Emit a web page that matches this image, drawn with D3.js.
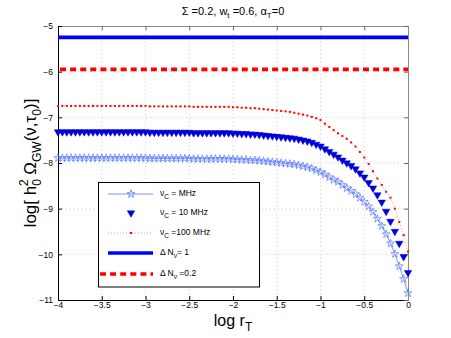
<!DOCTYPE html>
<html><head><meta charset="utf-8">
<script src="https://cdn.jsdelivr.net/npm/d3@7"></script>
<style>body{margin:0;background:#fff}svg{display:block;font-family:"Liberation Sans",Arial,Helvetica,sans-serif}</style>
</head><body><svg id="c" width="451" height="338"></svg>
<script>
// log r_T sample points
const logR = [-4,-3.95,-3.9,-3.85,-3.8,-3.75,-3.7,-3.65,-3.6,-3.55,-3.5,-3.45,-3.4,-3.35,-3.3,-3.25,-3.2,-3.15,-3.1,-3.05,
 -3,-2.95,-2.9,-2.85,-2.8,-2.75,-2.7,-2.65,-2.6,-2.55,-2.5,-2.45,-2.4,-2.35,-2.3,-2.25,-2.2,-2.15,-2.1,-2.05,
 -2,-1.95,-1.9,-1.85,-1.8,-1.75,-1.7,-1.65,-1.6,-1.55,-1.5,-1.45,-1.4,-1.35,-1.3,-1.25,-1.2,-1.15,-1.1,-1.05,
 -1,-0.95,-0.9,-0.85,-0.8,-0.75,-0.7,-0.65,-0.6,-0.55,-0.5,-0.45,-0.4,-0.35,-0.3,-0.25,-0.2,-0.15,-0.1,-0.05,0];
// nu_C = MHz
const seriesMHz = [-7.89,-7.89,-7.89,-7.89,-7.89,-7.89,-7.89,-7.89,-7.89,-7.89,-7.89,-7.89,-7.89,-7.89,-7.89,-7.89,-7.89,-7.89,-7.89,-7.89,
 -7.89,-7.90,-7.90,-7.90,-7.90,-7.90,-7.90,-7.90,-7.90,-7.90,-7.90,-7.91,-7.91,-7.91,-7.91,-7.91,-7.91,-7.91,-7.91,-7.91,
 -7.92,-7.92,-7.93,-7.93,-7.94,-7.94,-7.95,-7.96,-7.97,-7.98,-7.99,-8.00,-8.01,-8.02,-8.03,-8.05,-8.07,-8.09,-8.12,-8.16,
 -8.20,-8.25,-8.31,-8.37,-8.41,-8.48,-8.55,-8.61,-8.68,-8.76,-8.85,-8.95,-9.07,-9.22,-9.38,-9.56,-9.76,-9.99,-10.26,-10.54,-10.85];
// nu_C = 10 MHz
const series10MHz = [-7.32,-7.32,-7.32,-7.32,-7.32,-7.32,-7.32,-7.32,-7.32,-7.32,-7.32,-7.32,-7.32,-7.32,-7.32,-7.32,-7.32,-7.32,-7.32,-7.32,
 -7.32,-7.33,-7.33,-7.33,-7.33,-7.33,-7.33,-7.33,-7.33,-7.33,-7.33,-7.34,-7.34,-7.34,-7.34,-7.34,-7.34,-7.34,-7.34,-7.34,
 -7.35,-7.35,-7.36,-7.36,-7.37,-7.37,-7.38,-7.39,-7.40,-7.41,-7.42,-7.43,-7.44,-7.45,-7.46,-7.48,-7.50,-7.52,-7.55,-7.59,
 -7.63,-7.69,-7.75,-7.81,-7.87,-7.94,-8.00,-8.06,-8.13,-8.22,-8.31,-8.43,-8.55,-8.70,-8.86,-9.06,-9.28,-9.50,-9.76,-10.05,-10.40];
// nu_C = 100 MHz
const series100MHz = [-6.75,-6.75,-6.75,-6.75,-6.75,-6.75,-6.75,-6.75,-6.75,-6.75,-6.75,-6.75,-6.75,-6.75,-6.75,-6.75,-6.75,-6.75,-6.75,-6.75,
 -6.75,-6.76,-6.76,-6.76,-6.76,-6.76,-6.76,-6.76,-6.76,-6.76,-6.76,-6.77,-6.77,-6.77,-6.77,-6.77,-6.77,-6.77,-6.77,-6.77,
 -6.78,-6.78,-6.79,-6.79,-6.80,-6.80,-6.81,-6.82,-6.83,-6.84,-6.85,-6.86,-6.87,-6.88,-6.90,-6.92,-6.94,-6.96,-6.99,-7.02,
 -7.06,-7.14,-7.21,-7.28,-7.35,-7.41,-7.47,-7.55,-7.64,-7.76,-7.88,-8.02,-8.18,-8.34,-8.48,-8.63,-8.76,-9.00,-9.29,-9.58,-9.94];
// Delta N_nu horizontal levels
const deltaN1 = -5.25;
const deltaN02 = -5.95;
const xTicks = [-4,-3.5,-3,-2.5,-2,-1.5,-1,-0.5,0];
const yTicks = [-5,-6,-7,-8,-9,-10,-11];
const legendLabels = ["MHz","10 MHz","100 MHz"];

const svg = d3.select("#c");
const L = 58, R = 408, T = 26, B = 300;
const x = d3.scaleLinear().domain([-4,0]).range([L,R]);
const y = d3.scaleLinear().domain([-11,-5]).range([B,T]);
const fmt = d => String(d).replace("-", "\u2212");

// grid
const g = svg.append("g");
g.selectAll(".gx").data(xTicks.slice(1,-1)).join("line")
  .attr("x1",d=>x(d)).attr("x2",d=>x(d)).attr("y1",T).attr("y2",B)
  .attr("stroke","#c4c4c4").attr("stroke-width",0.8).attr("stroke-dasharray","1,3");
g.selectAll(".gy").data(yTicks.slice(1,-1)).join("line")
  .attr("y1",d=>y(d)).attr("y2",d=>y(d)).attr("x1",L).attr("x2",R)
  .attr("stroke","#c4c4c4").attr("stroke-width",0.8).attr("stroke-dasharray","1,3");

// axes using d3 axes with inward ticks
const axB = svg.append("g").attr("transform",`translate(0,${B})`)
  .call(d3.axisBottom(x).tickValues(xTicks).tickSize(-4).tickPadding(4).tickFormat(fmt));
const axT = svg.append("g").attr("transform",`translate(0,${T})`)
  .call(d3.axisTop(x).tickValues(xTicks).tickSize(-4).tickFormat(""));
const axL = svg.append("g").attr("transform",`translate(${L},0)`)
  .call(d3.axisLeft(y).tickValues(yTicks).tickSize(-4).tickPadding(5).tickFormat(fmt));
const axR = svg.append("g").attr("transform",`translate(${R},0)`)
  .call(d3.axisRight(y).tickValues(yTicks).tickSize(-4).tickFormat(""));
[axB,axL].forEach(a=>{a.select(".domain").attr("stroke","#000");a.selectAll(".tick line").attr("stroke","#000");
  a.selectAll("text").attr("font-size","8.5px").attr("fill","#000").attr("font-family","Liberation Sans, Arial, sans-serif");});
[axT,axR].forEach(a=>{a.select(".domain").attr("stroke","#888");a.selectAll(".tick line").attr("stroke","#666");});
axB.selectAll(".tick text").attr("dy","0.5em");

// horizontal Delta N lines
const plot = svg.append("g");
plot.append("line").attr("x1",x(-4)).attr("x2",x(0)).attr("y1",y(deltaN1)).attr("y2",y(deltaN1))
  .attr("stroke","#0000ff").attr("stroke-width",3.6);
plot.append("line").attr("x1",x(-4)+2).attr("x2",x(0)).attr("y1",y(deltaN02)).attr("y2",y(deltaN02))
  .attr("stroke","#ff0000").attr("stroke-width",3.6).attr("stroke-dasharray","6,4.1");

const pts = s => logR.map((r,i)=>[r,s[i]]);
const line = d3.line().x(d=>x(d[0])).y(d=>y(d[1]));

// 100 MHz red dotted + dots
plot.append("path").datum(pts(series100MHz)).attr("d",line).attr("fill","none")
  .attr("stroke","#ff6060").attr("stroke-width",0.7).attr("stroke-dasharray","1,2");
plot.selectAll(".rd").data(pts(series100MHz)).join("rect")
  .attr("x",d=>x(d[0])-1).attr("y",d=>y(d[1])-1).attr("width",2).attr("height",2).attr("fill","#ff0000");

// 10 MHz triangles
const tri = d3.symbol().type(d3.symbolTriangle).size(24);
plot.selectAll(".tr").data(pts(series10MHz)).join("path").attr("d",tri)
  .attr("transform",d=>`translate(${x(d[0])},${y(d[1])}) rotate(180)`).attr("fill","#0000d8").attr("stroke","#0000d8").attr("stroke-width",0.5);

// MHz stars + line
plot.append("path").datum(pts(seriesMHz)).attr("d",line).attr("fill","none")
  .attr("stroke","#5a78ff").attr("stroke-width",0.8);
const star = d3.symbol().type(d3.symbolStar).size(20);
plot.selectAll(".st").data(pts(seriesMHz)).join("path").attr("d",star)
  .attr("transform",d=>`translate(${x(d[0])},${y(d[1])})`).attr("fill","none").attr("stroke","#5a78ff").attr("stroke-width",0.7);

// Legend
const lg = svg.append("g");
lg.append("rect").attr("x",98.5).attr("y",182.5).attr("width",161).attr("height",104.5)
  .attr("fill","#fff").attr("stroke","#000").attr("stroke-width",1);
const rows = [194,213,233,253,274];
const lx1 = 108, lx2 = 153, lm = 131, tx = 160;
lg.append("line").attr("x1",lx1).attr("x2",lx2).attr("y1",rows[0]).attr("y2",rows[0]).attr("stroke","#5a78ff").attr("stroke-width",0.8);
lg.append("path").attr("d",star).attr("transform",`translate(${lm},${rows[0]})`).attr("fill","none").attr("stroke","#5a78ff").attr("stroke-width",0.8);
lg.append("path").attr("d",tri).attr("transform",`translate(${lm},${rows[1]}) rotate(180)`).attr("fill","#0000d8").attr("stroke","#0000d8").attr("stroke-width",0.5);
lg.append("line").attr("x1",lx1).attr("x2",lx2).attr("y1",rows[2]).attr("y2",rows[2]).attr("stroke","#ff6060").attr("stroke-width",0.7).attr("stroke-dasharray","1,2");
lg.append("rect").attr("x",lm-1).attr("y",rows[2]-1).attr("width",2).attr("height",2).attr("fill","#ff0000");
lg.append("line").attr("x1",lx1).attr("x2",lx2).attr("y1",rows[3]).attr("y2",rows[3]).attr("stroke","#0000ff").attr("stroke-width",3.6);
lg.append("line").attr("x1",lx1-8).attr("x2",lx2).attr("y1",rows[4]).attr("y2",rows[4]).attr("stroke","#ff0000").attr("stroke-width",3.6).attr("stroke-dasharray","6,4.1");

const ls = 8.5;
legendLabels.forEach((lab,i)=>{
  const t = lg.append("text").attr("x",tx).attr("y",rows[i]+2).attr("font-size",ls+"px");
  t.append("tspan").text("\u03bd");
  t.append("tspan").attr("dy",3).attr("font-size","6.5px").text("C");
  t.append("tspan").attr("dy",-3).text(i===2 ? " =" + lab : " = " + lab);
});
[["\u0394 N","\u03bd","= 1"],["\u0394 N","\u03bd"," =0.2"]].forEach((p,j)=>{
  const t = lg.append("text").attr("x",tx).attr("y",rows[3+j]+2).attr("font-size",ls+"px");
  t.append("tspan").text(p[0]);
  t.append("tspan").attr("dy",3).attr("font-size","6.5px").text(p[1]);
  t.append("tspan").attr("dy",-3).text(p[2]);
});

// Title
const tt = svg.append("text").attr("x",233).attr("y",15).attr("text-anchor","middle").attr("font-size","11px");
tt.append("tspan").text("\u03a3 =0.2, w");
tt.append("tspan").attr("dy",3).attr("font-size","8px").text("t");
tt.append("tspan").attr("dy",-3).text(" =0.6, \u03b1");
tt.append("tspan").attr("dy",3).attr("font-size","8px").text("T");
tt.append("tspan").attr("dy",-3).text("=0");

// X label
const xl = svg.append("text").attr("x",233).attr("y",326).attr("text-anchor","middle").attr("font-size","16px");
xl.append("tspan").text("log r");
xl.append("tspan").attr("dy",5).attr("font-size","12px").text("T");

// Y label
const yl = svg.append("text").attr("transform","translate(36,163) rotate(-90)").attr("text-anchor","middle").attr("font-size","17px");
yl.append("tspan").text("log[ h");
yl.append("tspan").attr("dy",5).attr("font-size","12px").text("0");
yl.append("tspan").attr("dx",-7).attr("dy",-13).attr("font-size","12px").text("2");
yl.append("tspan").attr("dy",8).text(" \u03a9");
yl.append("tspan").attr("dy",5).attr("font-size","12px").text("GW");
yl.append("tspan").attr("dy",-5).text("(\u03bd,\u03c4");
yl.append("tspan").attr("dy",5).attr("font-size","12px").text("0");
yl.append("tspan").attr("dy",-5).text(")]");
</script></body></html>
